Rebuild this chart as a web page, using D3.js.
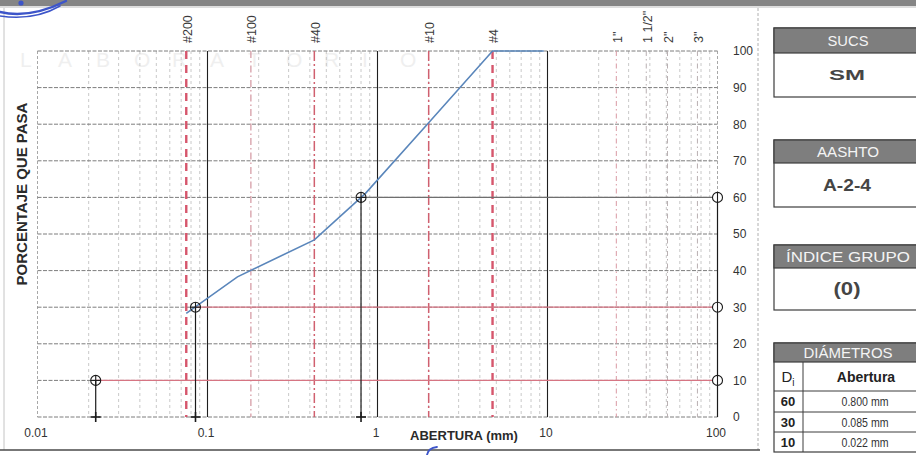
<!DOCTYPE html>
<html>
<head>
<meta charset="utf-8">
<script src="https://cdn.jsdelivr.net/npm/d3@7"></script>
<style>
  html, body { margin: 0; padding: 0; background: #fff; }
  svg { display: block; font-family: "Liberation Sans", Arial, sans-serif; }
</style>
</head>
<body>
<svg id="chart" width="916" height="455"></svg>
<script>
// ---- Grain size distribution (percent passing vs. sieve opening, mm) ----
const curveOpenings = [0.075, 0.15, 0.425, 0.85, 2.0, 4.75, 9.5];
const curvePassing  = [28.3, 38.3, 48.4, 61.1, 80.4, 100, 100];

// Reference sieves drawn as vertical guides
const sieveLabels   = ["#200", "#100", "#40", "#10", "#4", "1\"", "1 1/2\"", "2\"", "3\""];
const sieveOpenings = [0.075, 0.18, 0.425, 2.0, 4.75, 25.4, 38.1, 50.8, 76.2];

// Characteristic diameters D60, D30, D10
const diameterPercents = [60, 30, 10];
const diameterOpenings = [0.800, 0.085, 0.022];
const diameterLabels   = ["0.800 mm", "0.085 mm", "0.022 mm"];

// Axis ticks
const xTickValues = [0.01, 0.1, 1, 10, 100];
const xTickLabels = ["0.01", "0.1", "1", "10", "100"];
const yTickValues = [0, 10, 20, 30, 40, 50, 60, 70, 80, 90, 100];

// Classification results
const sucsClass   = "SM";
const aashtoClass = "A-2-4";
const groupIndex  = "(0)";

const svg = d3.select("#chart");

const x = d3.scaleLog().domain([0.01, 100]).range([37.5, 717.5]);
const y = d3.scaleLinear().domain([0, 100]).range([417, 51]);

// ---- sheet decorations ----
svg.append("rect").attr("x", 0).attr("y", 0).attr("width", 916).attr("height", 6).attr("fill", "#858585");
svg.append("line").attr("x1", 0).attr("x2", 916).attr("y1", 7).attr("y2", 7).attr("stroke", "#bdbdbd");
svg.append("line").attr("x1", 4).attr("x2", 4).attr("y1", 8).attr("y2", 450).attr("stroke", "#c4c4c4");
svg.append("line").attr("x1", 758).attr("x2", 758).attr("y1", 8).attr("y2", 450)
   .attr("stroke", "#b0b0b0").attr("stroke-dasharray", "3,2");
svg.append("line").attr("x1", 0).attr("x2", 760).attr("y1", 450).attr("y2", 450)
   .attr("stroke", "#4a4a4a").attr("stroke-width", 1.5);

// faint letterhead watermark
const wm = "LABORATORIO".split("");
svg.append("g").selectAll("text").data(wm).join("text")
   .attr("x", (d, i) => 20 + i * 38).attr("y", 67)
   .attr("font-size", 21).attr("fill", "#efefef").text(d => d);

// stamp ink
const stamp = svg.append("g").attr("fill", "none").attr("stroke", "#3d55c9").attr("stroke-linecap", "round");
stamp.append("path").attr("d", "M0,12 Q30,19 66,1").attr("stroke-width", 2.4);
stamp.append("path").attr("d", "M0,16 Q34,21 60,6").attr("stroke-width", 1.6);
stamp.append("circle").attr("cx", 21).attr("cy", 3).attr("r", 2.6).attr("fill", "#3d55c9").attr("stroke", "none");
stamp.append("path").attr("d", "M437,447 Q428,448 427,455").attr("stroke-width", 1.8);

// ---- grid ----
const grid = svg.append("g");
const x0 = x(0.01), x1 = x(100), yTop = y(100), yBot = y(0);

// minor vertical lines (2..9 within every decade)
const minor = [];
[0.01, 0.1, 1, 10].forEach(dec => { for (let k = 2; k <= 9; k++) minor.push(dec * k); });
grid.selectAll("line.minor").data(minor).join("line").attr("class", "minor")
    .attr("x1", d => x(d)).attr("x2", d => x(d)).attr("y1", yTop).attr("y2", yBot)
    .attr("stroke", "#c9c9c9").attr("stroke-width", 1).attr("stroke-dasharray", "3,3");

// outer decades
grid.selectAll("line.edge").data([0.01, 100]).join("line").attr("class", "edge")
    .attr("x1", d => x(d)).attr("x2", d => x(d)).attr("y1", yTop).attr("y2", yBot)
    .attr("stroke", "#a8a8a8").attr("stroke-dasharray", "3,2");

// horizontal lines
grid.selectAll("line.h").data(yTickValues).join("line").attr("class", "h")
    .attr("x1", x0).attr("x2", x1).attr("y1", d => y(d)).attr("y2", d => y(d))
    .attr("stroke", "#7d7d7d").attr("stroke-width", 1).attr("stroke-dasharray", "4,1.5");

// inner decades in solid black
grid.selectAll("line.dec").data([0.1, 1, 10]).join("line").attr("class", "dec")
    .attr("x1", d => x(d)).attr("x2", d => x(d)).attr("y1", yTop).attr("y2", yBot)
    .attr("stroke", "#1e1e1e").attr("stroke-width", 1.1);

// ---- sieve guides ----
const heavy = new Set(["#200", "#4"]);
const dashDot = new Set(["#40", "#10"]);
function sieveStroke(l) {
  if (heavy.has(l)) return { c: "#d6566c", w: 2.4, d: "8,6" };
  if (dashDot.has(l)) return { c: "#d0606f", w: 1.5, d: "10,3,2,3" };
  if (l === "#100") return { c: "#cf8c97", w: 1.1, d: "7,3,1.5,3" };
  if (l === "1\"") return { c: "#d99aa4", w: 1, d: "5,3,1.5,3" };
  return { c: "#b9b0b2", w: 1, d: "5,3,1.5,3" };
}
const sieves = sieveLabels.map((l, i) => ({ label: l, open: sieveOpenings[i] }));
const sg = svg.append("g");
sg.selectAll("line").data(sieves).join("line")
  .attr("x1", d => x(d.open)).attr("x2", d => x(d.open)).attr("y1", yTop).attr("y2", yBot)
  .attr("stroke", d => sieveStroke(d.label).c)
  .attr("stroke-width", d => sieveStroke(d.label).w)
  .attr("stroke-dasharray", d => sieveStroke(d.label).d);
sg.selectAll("text").data(sieves).join("text")
  .attr("transform", d => `translate(${x(d.open) + 5.5},43) rotate(-90)`)
  .attr("font-size", 12.5).attr("fill", "#3a3a3a").text(d => d.label);

// ---- diameter guides ----
const diam = diameterPercents.map((p, i) => ({ p, d: diameterOpenings[i] }));
const dg = svg.append("g");
// horizontal guides to the right axis
dg.selectAll("line.hd").data(diam).join("line").attr("class", "hd")
  .attr("x1", d => x(d.d)).attr("x2", x1).attr("y1", d => y(d.p)).attr("y2", d => y(d.p))
  .attr("stroke", d => d.p === 60 ? "#6f6f6f" : "#d67583").attr("stroke-width", 1.2);
// vertical drop lines
dg.selectAll("line.vd").data(diam).join("line").attr("class", "vd")
  .attr("x1", d => x(d.d)).attr("x2", d => x(d.d)).attr("y1", d => y(d.p)).attr("y2", yBot)
  .attr("stroke", "#1a1a1a").attr("stroke-width", 1.2);
// right axis spine from 0 to 60
dg.append("line").attr("x1", x1).attr("x2", x1).attr("y1", y(60)).attr("y2", yBot)
  .attr("stroke", "#1a1a1a").attr("stroke-width", 1.2);

// ---- grading curve ----
const pts = curveOpenings.map((o, i) => [o, curvePassing[i]]);
svg.append("path").datum(pts)
   .attr("fill", "none").attr("stroke", "#5a86bb").attr("stroke-width", 1.6)
   .attr("d", d3.line().x(d => x(d[0])).y(d => y(d[1])));

// ---- markers ----
const mk = svg.append("g").attr("stroke", "#1a1a1a").attr("stroke-width", 1.1);
diam.forEach(d => {
  const cx = x(d.d), cy = y(d.p);
  // crossed circle on the curve
  mk.append("circle").attr("cx", cx).attr("cy", cy).attr("r", 5).attr("fill", "none");
  mk.append("line").attr("x1", cx - 5).attr("x2", cx + 5).attr("y1", cy).attr("y2", cy);
  mk.append("line").attr("x1", cx).attr("x2", cx).attr("y1", cy - 5).attr("y2", cy + 5);
  // plus at the base
  mk.append("line").attr("x1", cx - 5).attr("x2", cx + 5).attr("y1", yBot).attr("y2", yBot).attr("stroke-width", 1.6);
  mk.append("line").attr("x1", cx).attr("x2", cx).attr("y1", yBot - 5).attr("y2", yBot + 5).attr("stroke-width", 1.6);
  // ring on the right axis
  mk.append("circle").attr("cx", x1).attr("cy", cy).attr("r", 5).attr("fill", "#fff");
  mk.append("line").attr("x1", x1).attr("x2", x1).attr("y1", cy - 5).attr("y2", cy + 5);
});

// ---- axes ----
const yAxis = svg.append("g").attr("transform", "translate(729,0)")
  .call(d3.axisRight(y).tickValues(yTickValues).tickSize(0).tickPadding(4));
yAxis.select(".domain").remove();
yAxis.selectAll("text").attr("font-size", 12).attr("fill", "#333").attr("font-family", "Liberation Sans, Arial, sans-serif");

const xAxis = svg.append("g").attr("transform", "translate(-2,425)")
  .call(d3.axisBottom(x).tickValues(xTickValues).tickFormat((d, i) => xTickLabels[i]).tickSize(0).tickPadding(3));
xAxis.select(".domain").remove();
xAxis.selectAll("text").attr("font-size", 12).attr("fill", "#333").attr("font-family", "Liberation Sans, Arial, sans-serif");

svg.append("text").attr("x", 464).attr("y", 440).attr("text-anchor", "middle")
   .attr("font-size", 13).attr("font-weight", "bold").attr("fill", "#2a2a2a").text("ABERTURA (mm)");
svg.append("text").attr("transform", "translate(26.5,194) rotate(-90)").attr("text-anchor", "middle")
   .attr("font-size", 15).attr("font-weight", "bold").attr("fill", "#2a2a2a").text("PORCENTAJE QUE PASA");

// ---- classification panel ----
const panel = svg.append("g");
const bx = 774, bw = 150, hdrFill = "#7e7e7e";
function box(top, hdrBottom, bottom, title, titleLen, value, valueSize, valueLen) {
  panel.append("rect").attr("x", bx).attr("y", top).attr("width", bw).attr("height", bottom - top)
       .attr("fill", "#fff").attr("stroke", "#3c3c3c").attr("stroke-width", 1.2);
  panel.append("rect").attr("x", bx).attr("y", top).attr("width", bw).attr("height", hdrBottom - top)
       .attr("fill", hdrFill).attr("stroke", "#3c3c3c").attr("stroke-width", 1.2);
  panel.append("text").attr("x", 848).attr("y", (top + hdrBottom) / 2).attr("dy", "0.36em")
       .attr("text-anchor", "middle").attr("font-size", 15).attr("fill", "#f4f4f4")
       .attr("textLength", titleLen).attr("lengthAdjust", "spacingAndGlyphs").text(title);
  panel.append("text").attr("x", 847).attr("y", (hdrBottom + bottom) / 2).attr("dy", "0.36em")
       .attr("text-anchor", "middle").attr("font-size", valueSize).attr("font-weight", "bold")
       .attr("fill", "#454545").attr("textLength", valueLen).attr("lengthAdjust", "spacingAndGlyphs")
       .text(value);
}
box(28, 53, 97, "SUCS", 41, sucsClass, 15, 36);
box(140, 163, 207, "AASHTO", 62, aashtoClass, 16, 48);
box(245, 268, 310, "ÍNDICE GRUPO", 124, groupIndex, 18, 27);

// diameters table
const tTop = 343, tHdr = 362, rowEdges = [362, 391, 412, 432, 452], colX = 803;
panel.append("rect").attr("x", bx).attr("y", tTop).attr("width", bw).attr("height", rowEdges[4] - tTop)
     .attr("fill", "#fff").attr("stroke", "#3c3c3c").attr("stroke-width", 1.2);
panel.append("rect").attr("x", bx).attr("y", tTop).attr("width", bw).attr("height", tHdr - tTop)
     .attr("fill", hdrFill).attr("stroke", "#3c3c3c").attr("stroke-width", 1.2);
panel.append("text").attr("x", 848).attr("y", (tTop + tHdr) / 2).attr("dy", "0.36em")
     .attr("text-anchor", "middle").attr("font-size", 15).attr("fill", "#f4f4f4").text("DIÁMETROS");
rowEdges.slice(1, 4).forEach(r => panel.append("line").attr("x1", bx).attr("x2", bx + bw)
     .attr("y1", r).attr("y2", r).attr("stroke", "#3c3c3c").attr("stroke-width", 1));
panel.append("line").attr("x1", colX).attr("x2", colX).attr("y1", tHdr).attr("y2", rowEdges[4])
     .attr("stroke", "#3c3c3c").attr("stroke-width", 1);
const diT = panel.append("text").attr("x", 788).attr("y", (rowEdges[0] + rowEdges[1]) / 2).attr("dy", "0.36em")
     .attr("text-anchor", "middle").attr("font-size", 15).attr("fill", "#222");
diT.append("tspan").text("D");
diT.append("tspan").attr("font-size", 10).attr("dy", "4").text("i");
panel.append("text").attr("x", 866).attr("y", (rowEdges[0] + rowEdges[1]) / 2).attr("dy", "0.36em")
     .attr("text-anchor", "middle").attr("font-size", 14).attr("font-weight", "bold").attr("fill", "#222").text("Abertura");
diameterPercents.forEach((p, i) => {
  const cy = (rowEdges[i + 1] + rowEdges[i + 2]) / 2;
  panel.append("text").attr("x", 788).attr("y", cy).attr("dy", "0.36em").attr("text-anchor", "middle")
       .attr("font-size", 13).attr("font-weight", "bold").attr("fill", "#222").text(p);
  panel.append("text").attr("x", 865).attr("y", cy).attr("dy", "0.36em").attr("text-anchor", "middle")
       .attr("font-size", 13).attr("fill", "#333")
       .attr("textLength", 47).attr("lengthAdjust", "spacingAndGlyphs").text(diameterLabels[i]);
});
</script>
</body>
</html>
